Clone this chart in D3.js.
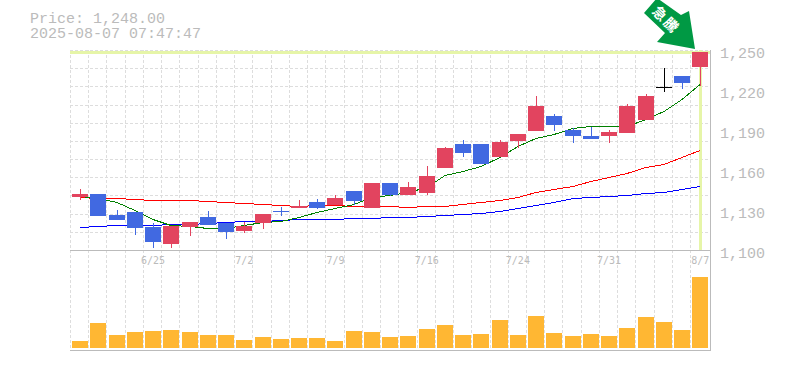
<!DOCTYPE html>
<html>
<head>
<meta charset="utf-8">
<script src="https://cdn.jsdelivr.net/npm/d3@7"></script>
<style>
  body { margin: 0; background: #fff; }
  svg { display: block; }
  text { font-family: "Liberation Mono", monospace; fill: #bbb; }
</style>
</head>
<body>
<div id="chart"></div>
<script>
// one entry per trading day, blank where no label is drawn
const dates = ['', '', '', '', '6/25', '', '', '', '', '7/2', '', '', '', '', '7/9', '', '', '', '', '7/16', '', '', '', '', '7/24', '', '', '', '', '7/31', '', '', '', '', '8/7']

const opens = [1139.75, 1142, 1125.5, 1128.5, 1117.25, 1104.5, 1117.25, 1124, 1120.25, 1114.25, 1120.25, 1129.25, 1131.5, 1136, 1133.75, 1143.5, 1131.5, 1150.25, 1141.25, 1142.75, 1161.5, 1179.5, 1179.5, 1169.75, 1181.75, 1189.25, 1200.5, 1190, 1185.5, 1185.5, 1187.75, 1197.5, 1222.25, 1230.5, 1237.25]
const closes = [1142, 1124.75, 1122.5, 1116.5, 1105.25, 1118, 1121, 1118.75, 1113.5, 1118, 1127, 1127.75, 1133, 1131.5, 1139, 1136.75, 1150.25, 1141.25, 1146.5, 1155.5, 1176.5, 1172.75, 1163.75, 1181, 1187, 1208, 1193.75, 1185.5, 1183.25, 1188.5, 1208, 1215.5, 1222.25, 1225.25, 1248]
const highs = [1145, 1142, 1130, 1128.5, 1120.25, 1118, 1121, 1129.25, 1120.25, 1121, 1127, 1132.25, 1137.5, 1138.25, 1141.25, 1143.5, 1150.25, 1150.25, 1151, 1162.25, 1177.25, 1182.5, 1179.5, 1182.5, 1187, 1215.5, 1202, 1191.5, 1192.25, 1190, 1209.5, 1217, 1236.5, 1230.5, 1248]
const lows = [1137.5, 1124.75, 1122.5, 1111.25, 1101.5, 1101.5, 1110.5, 1118.75, 1107.5, 1112.75, 1115.75, 1124.75, 1131.5, 1130.75, 1133.75, 1133.75, 1131.5, 1140.5, 1141.25, 1141.25, 1161.5, 1169.75, 1163.75, 1169.75, 1176.5, 1189.25, 1189.25, 1180.25, 1183.25, 1180.25, 1187.75, 1197.5, 1218.5, 1220.75, 1223]

const maShort = [1139.75, 1138.25, 1135.25, 1129.25, 1122.5, 1118, 1117.25, 1115.75, 1115.75, 1118, 1120.25, 1121, 1124, 1127.75, 1130.75, 1133.75, 1139, 1140.5, 1142.75, 1146.5, 1155.5, 1158.5, 1162.25, 1169, 1177.25, 1183.25, 1186.25, 1190.75, 1192.25, 1192.25, 1192.25, 1197.5, 1203.5, 1212.5, 1223.75]
const maMid = [1139, 1138.25, 1138.25, 1137.5, 1136.75, 1136.75, 1136.75, 1136, 1135.25, 1134.5, 1133.75, 1133, 1132.25, 1133, 1133, 1132.25, 1132.25, 1132.25, 1131.5, 1132.25, 1132.25, 1133.75, 1135.25, 1136.75, 1139, 1142.75, 1145, 1147.25, 1151, 1154, 1157, 1161.5, 1163.75, 1169, 1174.25]
const maLong = [1116.5, 1117.25, 1118, 1118, 1118, 1118.75, 1118.75, 1119.5, 1120.25, 1121, 1121, 1121.75, 1122.5, 1122.5, 1122.5, 1123.25, 1123.25, 1124, 1124, 1124.75, 1125.5, 1126.25, 1127, 1128.5, 1130.75, 1133, 1135.25, 1138.25, 1139, 1139.75, 1140.5, 1142, 1142.75, 1145, 1147.25]

const volumes = [7, 25, 13, 16, 17, 18, 16, 13, 13, 8, 11, 9, 10, 10, 7, 17, 16, 11, 12, 19, 23, 13, 14, 28, 13, 32, 15, 12, 14, 12, 20, 31, 26, 18, 71]

const priceTicks = [1100, 1130, 1160, 1190, 1220, 1250]
const lastPrice = 1248

const width = 785
const height = 370

const svg = d3.select('#chart').append('svg')
  .attr('width', width)
  .attr('height', height)

const days = d3.range(dates.length)

const x = d3.scaleBand().domain(days).range([71, 709.4])
const mid = i => Math.round(x(i) + x.bandwidth() / 2)

const y = d3.scaleLinear().domain([1100, 1250]).range([249.5, 49.5])
const yVol = d3.scaleLinear().domain([0, 98]).range([348, 250])

// grid: 11 rows and one column per day, not tied to the price labels
const grid = svg.append('g')
  .attr('stroke', '#ddd')
  .attr('stroke-dasharray', '3,2')
  .attr('shape-rendering', 'crispEdges')

grid.selectAll('.row')
  .data(d3.range(12))
  .enter().append('line')
  .attr('x1', 70)
  .attr('x2', 710)
  .attr('y1', d => 50.5 + Math.round(d * 200 / 11))
  .attr('y2', d => 50.5 + Math.round(d * 200 / 11))

grid.selectAll('.col')
  .data(days)
  .enter().append('line')
  .attr('x1', d => Math.round(x(d)) - 0.5)
  .attr('x2', d => Math.round(x(d)) - 0.5)
  .attr('y1', 50)
  .attr('y2', 350)

// last price crosshair
svg.append('rect')
  .attr('x', 70).attr('width', 640)
  .attr('y', 51).attr('height', 3)
  .attr('fill', '#e6f5a8')

svg.append('rect')
  .attr('x', mid(34) - 1).attr('width', 3)
  .attr('y', 50).attr('height', 200)
  .attr('fill', '#e6f5a8')

// frame
const frame = svg.append('g')
  .attr('stroke', '#bbb')
  .attr('shape-rendering', 'crispEdges')
frame.append('line').attr('x1', 70).attr('x2', 710).attr('y1', 250.5).attr('y2', 250.5)
frame.append('line').attr('x1', 70).attr('x2', 710).attr('y1', 350.5).attr('y2', 350.5)
frame.append('line').attr('x1', 710.5).attr('x2', 710.5).attr('y1', 50).attr('y2', 351)

// moving averages go under the candles
const line = d3.line()
  .x((d, i) => mid(i))
  .y(d => y(d))

svg.selectAll('.ma')
  .data([
    { values: maLong, color: '#0000ff' },
    { values: maMid, color: '#ff0000' },
    { values: maShort, color: '#008000' }
  ])
  .enter().append('path')
  .attr('class', 'ma')
  .attr('d', d => line(d.values))
  .attr('fill', 'none')
  .attr('stroke', d => d.color)
  .attr('stroke-width', 1)
  .attr('shape-rendering', 'crispEdges')

let candleColor = i => {
  if (closes[i] > opens[i]) return '#e2445f'
  if (closes[i] < opens[i]) return '#4169e1'
  return '#000'
}

const candles = svg.append('g').attr('shape-rendering', 'crispEdges')

candles.selectAll('.wick')
  .data(days)
  .enter().append('line')
  .attr('class', 'wick')
  .attr('x1', d => mid(d) + 0.5)
  .attr('x2', d => mid(d) + 0.5)
  .attr('y1', d => Math.round(y(highs[d])))
  .attr('y2', d => Math.round(y(lows[d])))
  .attr('stroke', candleColor)

candles.selectAll('.body')
  .data(days)
  .enter().append('rect')
  .attr('class', 'body')
  .attr('x', d => mid(d) - 8)
  .attr('width', 16)
  .attr('y', d => Math.round(y(Math.max(opens[d], closes[d]))))
  .attr('height', d => Math.max(1, Math.round(y(Math.min(opens[d], closes[d]))) - Math.round(y(Math.max(opens[d], closes[d])))))
  .attr('fill', candleColor)

svg.append('g')
  .attr('shape-rendering', 'crispEdges')
  .selectAll('rect')
  .data(days)
  .enter().append('rect')
  .attr('x', d => mid(d) - 8)
  .attr('width', 16)
  .attr('y', d => yVol(volumes[d]))
  .attr('height', d => yVol(0) - yVol(volumes[d]))
  .attr('fill', '#ffb733')

// axes, only the labels are kept
const yAxis = svg.append('g')
  .attr('transform', 'translate(711,0)')
  .call(d3.axisRight(y).tickValues(priceTicks).tickFormat(d3.format(',')).tickSize(0).tickPadding(9))
yAxis.select('.domain').remove()
yAxis.selectAll('text')
  .attr('dy', '0.5em')
  .attr('font-size', 15)
  .attr('font-family', null)

const xAxis = svg.append('g')
  .attr('transform', 'translate(0,250)')
  .call(d3.axisBottom(x).tickValues(days.filter(d => dates[d])).tickFormat(d => dates[d]).tickSize(0).tickPadding(7))
xAxis.select('.domain').remove()
xAxis.selectAll('text')
  .attr('font-size', 10)
  .attr('font-family', null)
  .style('font-family', '"DejaVu Sans Mono", monospace')

// header
svg.append('text').attr('x', 30).attr('y', 23).attr('font-size', 15).text('Price: ' + d3.format(',.2f')(lastPrice))
svg.append('text').attr('x', 30).attr('y', 38).attr('font-size', 15).text('2025-08-07 07:47:47')

// arrow marker over the last candle
svg.append('path')
  .attr('d', 'M644,13 L657,-2 L681,15 L689,11 L695,49 L657,42 L665,33 Z')
  .attr('fill', '#009944')

svg.append('text')
  .attr('transform', 'translate(666,20) rotate(45)')
  .attr('text-anchor', 'middle')
  .attr('dy', '0.35em')
  .attr('font-size', 14)
  .attr('font-weight', 'bold')
  .attr('letter-spacing', 2)
  .style('font-family', '"Noto Sans CJK JP", sans-serif')
  .style('fill', '#fff')
  .text('急騰')
</script>
</body>
</html>
